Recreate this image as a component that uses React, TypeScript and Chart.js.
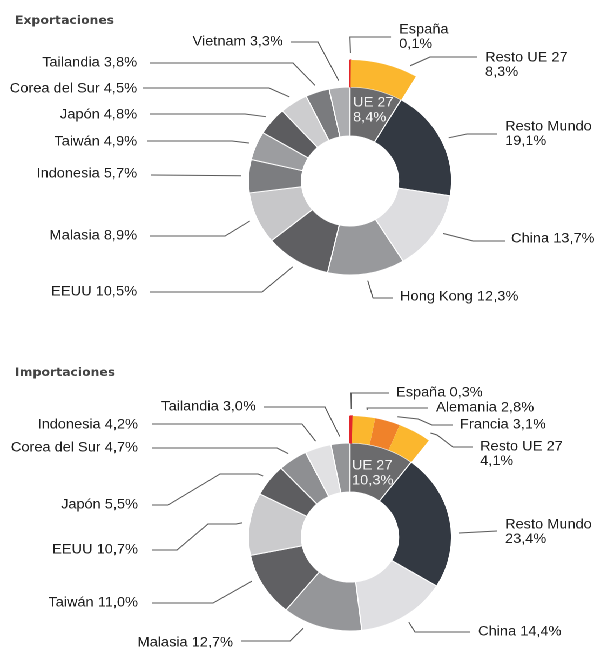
import { useEffect, useRef } from 'react';
import { Chart, registerables } from 'chart.js';

Chart.register(...registerables);

// ---------- data ----------
const expTitle = 'Exportaciones';
const expLabels = ['UE 27', 'Resto Mundo', 'China', 'Hong Kong', 'EEUU', 'Malasia', 'Indonesia', 'Taiwán', 'Japón', 'Corea del Sur', 'Tailandia', 'Vietnam'];
const expValues = [8.4, 19.1, 13.7, 12.3, 10.5, 8.9, 5.7, 4.9, 4.8, 4.5, 3.8, 3.3];
const expEuLabels = ['España', 'Resto UE 27'];
const expEuValues = [0.1, 8.3];

const impTitle = 'Importaciones';
const impLabels = ['UE 27', 'Resto Mundo', 'China', 'Malasia', 'Taiwán', 'EEUU', 'Japón', 'Corea del Sur', 'Indonesia', 'Tailandia'];
const impValues = [10.3, 23.4, 14.4, 12.7, 11.0, 10.7, 5.5, 4.7, 4.2, 3.0];
const impEuLabels = ['España', 'Alemania', 'Francia', 'Resto UE 27'];
const impEuValues = [0.3, 2.8, 3.1, 4.1];

// ---------- styles ----------
const RED = '#e3262b';
const YELLOW = '#fbb72e';
const ORANGE = '#f0822a';
const expColors = ['#6b6b6d', '#333942', '#dddde0', '#98999c', '#5f5f62', '#c7c7c9', '#7c7d80', '#9c9da0', '#5c5c5f', '#cdcdcf', '#7a7b7e', '#acadb0'];
const expEuColors = [RED, YELLOW];
const impColors = ['#6b6b6d', '#333942', '#dfdfe2', '#959699', '#606063', '#cbcbcd', '#5d5d60', '#8e8f92', '#e1e1e3', '#939497'];
const impEuColors = [RED, YELLOW, ORANGE, YELLOW];

const S = 1.08; // horizontal stretch of the reference picture
const CW = 553;
const CH = 324;
const LABEL_FONT = '13.5px "Liberation Sans", Arial, sans-serif';
const TITLE_FONT = 'bold 11.5px "DejaVu Sans", sans-serif';

type Lbl = { ring: number; i: number; frac?: number; side: 'l' | 'r'; tx: number; ty: number; two?: boolean; pts: number[][] };

// label layout (page coordinates)
const expLayout: Lbl[] = [
  { ring: 0, i: 0, side: 'r', two: true, tx: 399, ty: 30, pts: [[350, 37], [391, 37]] },
  { ring: 0, i: 1, frac: 0.85, side: 'r', two: true, tx: 485, ty: 58, pts: [[430, 57], [477, 57]] },
  { ring: 1, i: 1, side: 'r', two: true, tx: 505, ty: 127, pts: [[467, 134], [497, 134]] },
  { ring: 1, i: 2, frac: 0.45, side: 'r', tx: 511, ty: 239, pts: [[473, 241], [505, 241]] },
  { ring: 1, i: 3, side: 'r', tx: 400, ty: 297, pts: [[373, 298], [393, 298]] },
  { ring: 1, i: 4, side: 'l', tx: 137, ty: 292, pts: [[262, 292], [150, 292]] },
  { ring: 1, i: 5, side: 'l', tx: 137, ty: 236, pts: [[225, 236], [150, 236]] },
  { ring: 1, i: 6, side: 'l', tx: 137, ty: 174, pts: [[151, 175]] },
  { ring: 1, i: 7, side: 'l', tx: 137, ty: 142, pts: [[232, 141], [147, 141]] },
  { ring: 1, i: 8, side: 'l', tx: 137, ty: 115, pts: [[245, 114], [150, 114]] },
  { ring: 1, i: 9, side: 'l', tx: 137, ty: 89, pts: [[269, 88], [143, 88]] },
  { ring: 1, i: 10, side: 'l', tx: 137, ty: 63, pts: [[293, 63], [150, 63]] },
  { ring: 1, i: 11, side: 'l', tx: 283, ty: 42, pts: [[318, 42], [291, 42]] },
];

const impLayout: Lbl[] = [
  { ring: 0, i: 0, side: 'r', tx: 396, ty: 393, pts: [[351, 393], [389, 393]] },
  { ring: 0, i: 1, frac: 0.6, side: 'r', tx: 436, ty: 408, pts: [[367, 408], [428, 408]] },
  { ring: 0, i: 2, frac: 0.8, side: 'r', tx: 460, ty: 425, pts: [[418, 419], [432, 425], [453, 425]] },
  { ring: 0, i: 3, frac: 0.9, side: 'r', two: true, tx: 480, ty: 447, pts: [[437, 435], [453, 447], [473, 447]] },
  { ring: 1, i: 1, frac: 0.6, side: 'r', two: true, tx: 505, ty: 525, pts: [[497, 531]] },
  { ring: 1, i: 2, side: 'r', tx: 478, ty: 632, pts: [[415, 632], [470, 632]] },
  { ring: 1, i: 3, frac: 0.7, side: 'l', tx: 233, ty: 643, pts: [[290, 641], [241, 641]] },
  { ring: 1, i: 4, frac: 0.63, side: 'l', tx: 138, ty: 603, pts: [[213, 603], [152, 603]] },
  { ring: 1, i: 5, side: 'l', tx: 138, ty: 550, pts: [[236, 524], [208, 524], [177, 550], [152, 550]] },
  { ring: 1, i: 6, side: 'l', tx: 138, ty: 505, pts: [[258, 474], [220, 474], [168, 505], [152, 505]] },
  { ring: 1, i: 7, side: 'l', tx: 138, ty: 448, pts: [[277, 448], [152, 448]] },
  { ring: 1, i: 8, side: 'l', tx: 138, ty: 425, pts: [[302, 424], [152, 424]] },
  { ring: 1, i: 9, side: 'l', tx: 256, ty: 407, pts: [[325, 407], [264, 407]] },
];

const fmt = (v: number) => v.toFixed(1).replace('.', ',') + '%';
const sum = (a: number[]) => a.reduce((s, v) => s + v, 0);

type Cfg = {
  title: string; titleY: number; offY: number; cy: number;
  labels: string[]; values: number[]; colors: string[];
  euLabels: string[]; euValues: number[]; euColors: string[];
  layout: Lbl[]; inner: { x: number; y: number };
};

const charts: Cfg[] = [
  { title: expTitle, titleY: 21, offY: 0, cy: 181, labels: expLabels, values: expValues, colors: expColors,
    euLabels: expEuLabels, euValues: expEuValues, euColors: expEuColors, layout: expLayout, inner: { x: 353, y: 103 } },
  { title: impTitle, titleY: 373, offY: 324, cy: 537, labels: impLabels, values: impValues, colors: impColors,
    euLabels: impEuLabels, euValues: impEuValues, euColors: impEuColors, layout: impLayout, inner: { x: 352, y: 466 } },
];

function makePlugin(cfg: Cfg) {
  return {
    id: 'annot',
    afterDatasetsDraw(chart: any) {
      const ctx = chart.ctx as CanvasRenderingContext2D;
      const X = (x: number) => x / S;
      const Y = (y: number) => y - cfg.offY;
      ctx.save();
      // title
      ctx.font = TITLE_FONT;
      ctx.fillStyle = '#444444';
      ctx.textAlign = 'left';
      ctx.textBaseline = 'middle';
      ctx.fillText(cfg.title, X(15), Y(cfg.titleY));
      // inner label
      ctx.font = LABEL_FONT;
      ctx.fillStyle = '#f4f4f4';
      ctx.fillText(cfg.labels[0], X(cfg.inner.x), Y(cfg.inner.y));
      ctx.fillText(fmt(cfg.values[0]), X(cfg.inner.x), Y(cfg.inner.y + 15));
      // leader lines + labels
      for (const l of cfg.layout) {
        const arc = chart.getDatasetMeta(l.ring).data[l.i];
        const p = arc.getProps(['x', 'y', 'startAngle', 'endAngle', 'outerRadius'], true);
        const a = p.startAngle + (l.frac ?? 0.5) * (p.endAngle - p.startAngle);
        const r = p.outerRadius + 7;
        ctx.beginPath();
        ctx.moveTo(p.x + Math.cos(a) * r, p.y + Math.sin(a) * r);
        for (const pt of l.pts) ctx.lineTo(X(pt[0]), Y(pt[1]));
        ctx.strokeStyle = '#5a5a5a';
        ctx.lineWidth = 1;
        ctx.stroke();
        const name = l.ring === 0 ? cfg.euLabels[l.i] : cfg.labels[l.i];
        const val = l.ring === 0 ? cfg.euValues[l.i] : cfg.values[l.i];
        const lines = l.two ? [name, fmt(val)] : [name + ' ' + fmt(val)];
        ctx.font = LABEL_FONT;
        ctx.fillStyle = '#1e1e1e';
        ctx.textAlign = l.side === 'l' ? 'right' : 'left';
        ctx.textBaseline = 'middle';
        lines.forEach((t, k) => ctx.fillText(t, X(l.tx), Y(l.ty + k * 14.5)));
      }
      ctx.restore();
    },
  };
}

function Donut({ cfg }: { cfg: Cfg }) {
  const ref = useRef<HTMLCanvasElement>(null);
  useEffect(() => {
    const canvas = ref.current!;
    const cx = 350 / S;
    const cy = cfg.cy - cfg.offY;
    const half = 100;
    const rest = sum(cfg.values) - sum(cfg.euValues);
    const chart = new Chart(canvas, {
      type: 'doughnut',
      data: {
        labels: cfg.labels,
        datasets: [
          {
            data: [...cfg.euValues, rest],
            backgroundColor: [...cfg.euColors, 'rgba(0,0,0,0)'],
            borderColor: [RED, ...cfg.euColors.slice(1), 'rgba(0,0,0,0)'],
            borderWidth: [1.2, ...cfg.euColors.slice(1).map(() => 0), 0],
            weight: 27,
            clip: false,
          } as any,
          {
            data: cfg.values,
            backgroundColor: cfg.colors,
            borderColor: '#ffffff',
            borderWidth: 1,
            weight: 49,
            clip: false,
          } as any,
        ],
      },
      options: {
        responsive: false,
        animation: false,
        devicePixelRatio: 2,
        events: [],
        radius: 121,
        cutout: '37.2%',
        layout: { padding: { left: cx - half, right: CW - cx - half, top: cy - half, bottom: CH - cy - half } },
        plugins: { legend: { display: false }, tooltip: { enabled: false } },
      } as any,
      plugins: [makePlugin(cfg)],
    });
    return () => chart.destroy();
  }, [cfg]);
  return <canvas ref={ref} width={CW} height={CH} style={{ display: 'block' }} />;
}

export default function App() {
  return (
    <div
      style={{
        position: 'absolute', left: 0, top: 0, width: CW, height: CH * 2,
        transform: `scaleX(${S})`, transformOrigin: '0 0', background: '#fff',
      }}
    >
      {charts.map((c) => (
        <Donut key={c.title} cfg={c} />
      ))}
    </div>
  );
}
